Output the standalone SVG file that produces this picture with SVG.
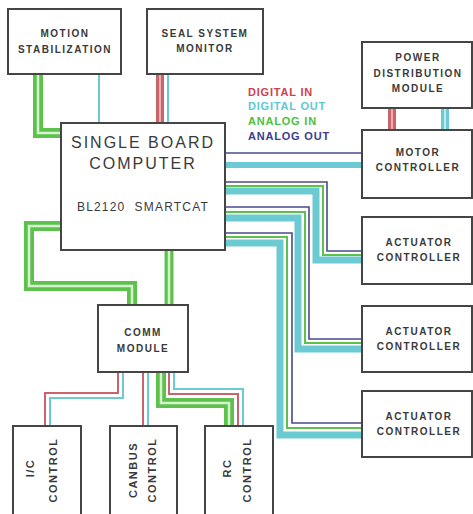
<svg xmlns="http://www.w3.org/2000/svg" width="473" height="514" viewBox="0 0 473 514">
<style>
.box{fill:#fff;stroke:#454545;stroke-width:2}
.lbl{font-family:"Liberation Sans",Arial,sans-serif;font-weight:bold;font-size:10px;fill:#3a3a3a;letter-spacing:1.5px;text-anchor:middle}
.big{font-family:"Liberation Sans",Arial,sans-serif;font-size:16px;fill:#3a3a3a;letter-spacing:2px;text-anchor:middle}
.mid{font-family:"Liberation Sans",Arial,sans-serif;font-size:12px;fill:#3a3a3a;letter-spacing:1.2px;text-anchor:middle}
.rot{font-family:"Liberation Sans",Arial,sans-serif;font-weight:bold;font-size:11px;fill:#3a3a3a;letter-spacing:1.5px;text-anchor:middle}
.leg{font-family:"Liberation Sans",Arial,sans-serif;font-weight:bold;font-size:11px;letter-spacing:0.8px}
path{fill:none}
.gb{stroke:#5cc24c;stroke-width:10}
.gl{stroke:#d6f2cf;stroke-width:2.5}
.g{stroke:#5cc24c;stroke-width:2}
.rb{stroke:#c8646a;stroke-width:8}
.rl{stroke:#e8b0b4;stroke-width:2}
.r{stroke:#c8646a;stroke-width:2}
.cb{stroke:#6ccbd2;stroke-width:7}
.cl{stroke:#bfeaee;stroke-width:2}
.c{stroke:#6ccbd2;stroke-width:2}
.n{stroke:#4a4a90;stroke-width:1.6}
</style>
<g id="connectors">
  <!-- Motion stabilization -> SBC -->
  <path class="gb" d="M38,74 V133 H62"/>
  <path class="gl" d="M38,74 V133 H62"/>
  <path class="c" d="M99,74 V123"/>
  <!-- Seal system -> SBC -->
  <path class="rb" d="M160,74 V123"/>
  <path class="rl" d="M160,74 V123"/>
  <path class="c" d="M168,74 V123"/>
  <!-- Power distribution -> Motor controller -->
  <path class="rb" d="M392,108 V130"/>
  <path class="rl" d="M392,108 V130"/>
  <path class="cb" d="M445,108 V130" style="stroke-width:8"/>
  <path class="cl" d="M445,108 V130"/>
  <!-- SBC -> Motor controller -->
  <path class="n" d="M225,153 H362"/>
  <path class="cb" d="M225,165 H362" style="stroke-width:6"/>
  <!-- SBC -> Actuator 1 -->
  <path class="cb" d="M225,191 H316 V260 H362"/>
  <path class="g" d="M225,186 H323 V255 H362"/>
  <path class="n" d="M225,182 H327 V251 H362"/>
  <!-- SBC -> Actuator 2 -->
  <path class="cb" d="M225,218 H298 V349 H362"/>
  <path class="g" d="M225,212 H305 V343 H362"/>
  <path class="n" d="M225,207 H309 V339 H362"/>
  <!-- SBC -> Actuator 3 -->
  <path class="cb" d="M225,243 H280 V435 H362"/>
  <path class="g" d="M225,237 H287 V428 H362"/>
  <path class="n" d="M225,233 H292 V423 H362"/>
  <!-- SBC -> Comm module -->
  <path class="gb" d="M62,226 H29 V286 H132 V306"/>
  <path class="gl" d="M62,226 H29 V286 H132 V306"/>
  <path class="gb" d="M169,250 V306" style="stroke-width:9"/>
  <path class="gl" d="M169,250 V306"/>
  <!-- Comm -> I/C control -->
  <path class="r" d="M118,372 V393 H45 V427"/>
  <path class="c" d="M123,372 V398 H50 V427"/>
  <!-- Comm -> CANBUS control -->
  <path class="r" d="M143,372 V427"/>
  <path class="c" d="M148,372 V427"/>
  <!-- Comm -> RC control -->
  <path class="c" d="M174,372 V389 H243 V427"/>
  <path class="r" d="M169,372 V394 H238 V427"/>
  <path class="gb" d="M161,372 V403 H229 V427"/>
  <path class="gl" d="M161,372 V403 H229 V427"/>
</g>
<g id="legend">
  <text class="leg" x="248" y="96" fill="#d0404e">DIGITAL IN</text>
  <text class="leg" x="248" y="110" fill="#5ccad4">DIGITAL OUT</text>
  <text class="leg" x="248" y="125" fill="#4cc040">ANALOG IN</text>
  <text class="leg" x="248" y="140" fill="#3c3c90">ANALOG OUT</text>
</g>
<g id="motion-stabilization">
  <rect class="box" x="8" y="9" width="113" height="65"/>
  <text class="lbl" x="65" y="37">MOTION</text>
  <text class="lbl" x="65" y="53">STABILIZATION</text>
</g>
<g id="seal-system-monitor">
  <rect class="box" x="147" y="9" width="116" height="65"/>
  <text class="lbl" x="205" y="37">SEAL SYSTEM</text>
  <text class="lbl" x="205" y="52">MONITOR</text>
</g>
<g id="power-distribution">
  <rect class="box" x="362" y="42" width="110" height="66"/>
  <text class="lbl" x="418" y="61">POWER</text>
  <text class="lbl" x="418" y="77">DISTRIBUTION</text>
  <text class="lbl" x="418" y="92">MODULE</text>
</g>
<g id="motor-controller">
  <rect class="box" x="362" y="130" width="110" height="68"/>
  <text class="lbl" x="418" y="156">MOTOR</text>
  <text class="lbl" x="418" y="171">CONTROLLER</text>
</g>
<g id="single-board-computer">
  <rect class="box" x="61" y="123" width="164" height="127"/>
  <text class="big" x="143" y="148">SINGLE BOARD</text>
  <text class="big" x="143" y="169">COMPUTER</text>
  <text class="mid" x="143" y="211" xml:space="preserve">BL2120  SMARTCAT</text>
</g>
<g id="actuator-controller-1">
  <rect class="box" x="362" y="217" width="110" height="67"/>
  <text class="lbl" x="419" y="246">ACTUATOR</text>
  <text class="lbl" x="419" y="261">CONTROLLER</text>
</g>
<g id="actuator-controller-2">
  <rect class="box" x="362" y="306" width="110" height="66"/>
  <text class="lbl" x="419" y="335">ACTUATOR</text>
  <text class="lbl" x="419" y="350">CONTROLLER</text>
</g>
<g id="actuator-controller-3">
  <rect class="box" x="362" y="391" width="110" height="66"/>
  <text class="lbl" x="419" y="420">ACTUATOR</text>
  <text class="lbl" x="419" y="435">CONTROLLER</text>
</g>
<g id="comm-module">
  <rect class="box" x="98" y="305" width="90" height="67"/>
  <text class="lbl" x="143" y="336">COMM</text>
  <text class="lbl" x="143" y="352">MODULE</text>
</g>
<g id="ic-control">
  <rect class="box" x="13" y="426" width="68" height="95"/>
  <text class="rot" transform="translate(34,468) rotate(-90)">I/C</text>
  <text class="rot" transform="translate(57,470) rotate(-90)">CONTROL</text>
</g>
<g id="canbus-control">
  <rect class="box" x="110" y="426" width="67" height="95"/>
  <text class="rot" transform="translate(137,470) rotate(-90)">CANBUS</text>
  <text class="rot" transform="translate(156,470) rotate(-90)">CONTROL</text>
</g>
<g id="rc-control">
  <rect class="box" x="205" y="426" width="68" height="95"/>
  <text class="rot" transform="translate(231,468) rotate(-90)">RC</text>
  <text class="rot" transform="translate(251,470) rotate(-90)">CONTROL</text>
</g>
</svg>
